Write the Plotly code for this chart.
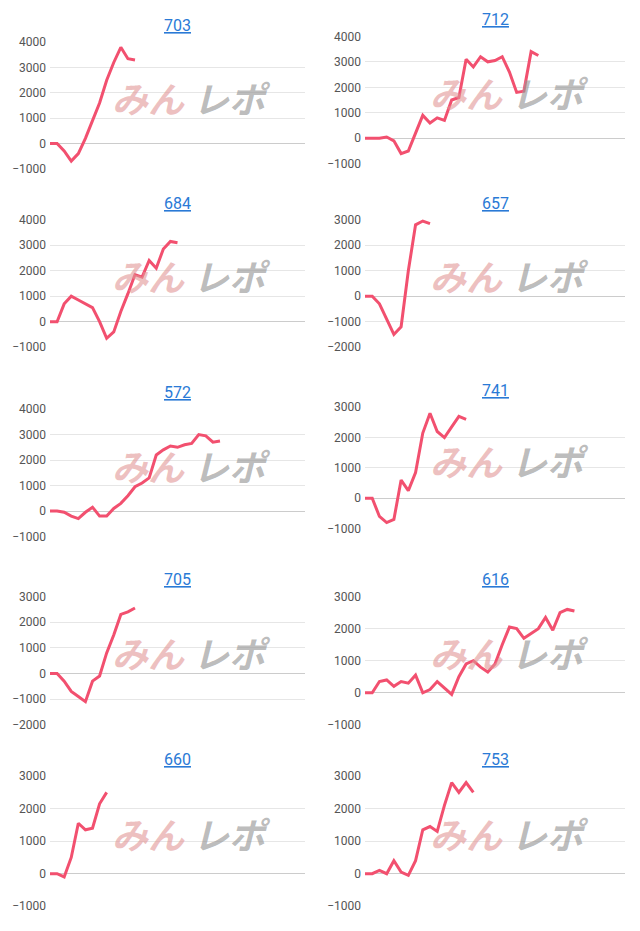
import plotly.graph_objects as go

titles = ["703", "712", "684", "657", "572", "741", "705", "616", "660", "753"]
s703 = [0, 0, -300, -700, -400, 200, 900, 1600, 2500, 3200, 3800, 3350, 3300]
s712 = [0, 0, 0, 50, -100, -600, -500, 200, 900, 600, 800, 700, 1500, 1600, 3100, 2800,
        3200, 3000, 3050, 3200, 2600, 1800, 1850, 3400, 3250]
s684 = [0, 0, 700, 1000, 850, 700, 550, 0, -650, -400, 400, 1100, 1850, 1750, 2400, 2100, 2850, 3150, 3100]
s657 = [0, 0, -300, -900, -1500, -1200, 1000, 2800, 2950, 2850]
s572 = [0, 0, -50, -200, -300, -50, 150, -200, -200, 100, 300, 600, 950, 1100, 1300, 2200,
        2400, 2550, 2500, 2600, 2650, 3000, 2950, 2700, 2750]
s741 = [0, 0, -600, -800, -700, 600, 250, 850, 2150, 2800, 2200, 2000, 2350, 2700, 2600]
s705 = [0, 0, -300, -700, -900, -1100, -300, -100, 800, 1500, 2300, 2400, 2550]
s616 = [0, 0, 350, 400, 200, 350, 300, 550, 0, 100, 350, 150, -50, 500, 900, 1000, 800, 650,
        900, 1500, 2050, 2000, 1700, 1850, 2000, 2350, 1950, 2500, 2600, 2550]
s660 = [0, 0, -100, 500, 1550, 1350, 1400, 2150, 2500]
s753 = [0, 0, 100, 0, 400, 50, -50, 400, 1350, 1450, 1300, 2100, 2800, 2500, 2800, 2500]
series = [s703, s712, s684, s657, s572, s741, s705, s616, s660, s753]
yranges = [(-1000, 4000), (-1000, 4000), (-1000, 4000), (-2000, 3000), (-1000, 4000),
           (-1000, 3000), (-2000, 3000), (-1000, 3000), (-1000, 3000), (-1000, 3000)]

W, H = 640, 931
tops = [36, 216, 408, 598, 780]
bots = [165, 346, 538, 729, 913]
fig = go.Figure()
layout = {}
ann = []
for i, (t, s, yr) in enumerate(zip(titles, series, yranges)):
    r, c = divmod(i, 2)
    top, bot = tops[r], bots[r]
    if i == 1:
        top, bot = 30, 160
    if i == 5:
        top, bot = 406, 530
    x0, x1 = (50, 305) if c == 0 else (365, 625)
    n = i + 1
    xa = "x" if n == 1 else f"x{n}"
    ya = "y" if n == 1 else f"y{n}"
    fig.add_trace(go.Scatter(x=list(range(len(s))), y=s, mode="lines", xaxis=xa, yaxis=ya,
                             line=dict(color="#f2506f", width=3), hoverinfo="skip", showlegend=False))
    layout[f"xaxis{n if n > 1 else ''}"] = dict(domain=[x0 / W, x1 / W], range=[0, 36], showgrid=False,
                                                 showticklabels=False, zeroline=False, anchor=ya,
                                                 showline=False)
    layout[f"yaxis{n if n > 1 else ''}"] = dict(domain=[1 - bot / H, 1 - top / H], range=[yr[0], yr[1] + 30],
                                                 dtick=1000, gridcolor="#e6e6e6", zeroline=True,
                                                 zerolinecolor="#cccccc", zerolinewidth=1,
                                                 tickfont=dict(size=12, color="#555"), anchor=xa,
                                                 ticklabelstandoff=3)
    xc = (x0 + x1) / 2
    ann.append(dict(text=f"<u>{t}</u>", x=xc / W, y=1 - (top - 16) / H, xref="paper", yref="paper",
                    xanchor="center", yanchor="middle",
                    showarrow=False, font=dict(size=16, color="#2a7ad6", family="Roboto")))
    wx = x0 + 0.545 * (x1 - x0)
    wy = top + 0.44 * (bot - top)
    ann.append(dict(text="<b><i>みん</i></b>", x=(wx - 2) / W, y=1 - wy / H, xref="paper", yref="paper",
                    xanchor="right", yanchor="middle", showarrow=False,
                    font=dict(size=36, color="rgba(225,150,150,0.6)", family="Noto Sans CJK JP")))
    ann.append(dict(text="<b><i>レポ</i></b>", x=(wx + 2) / W, y=1 - wy / H, xref="paper", yref="paper",
                    xanchor="left", yanchor="middle", showarrow=False,
                    font=dict(size=36, color="rgba(150,150,150,0.65)", family="Noto Sans CJK JP")))

fig.update_layout(width=W, height=H, margin=dict(l=0, r=0, t=0, b=0), plot_bgcolor="white",
                  paper_bgcolor="white", annotations=ann, font=dict(family="Roboto"), **layout)
fig.write_html("out.html", config={"displayModeBar": False},
               post_script="document.body.style.margin='0';")
